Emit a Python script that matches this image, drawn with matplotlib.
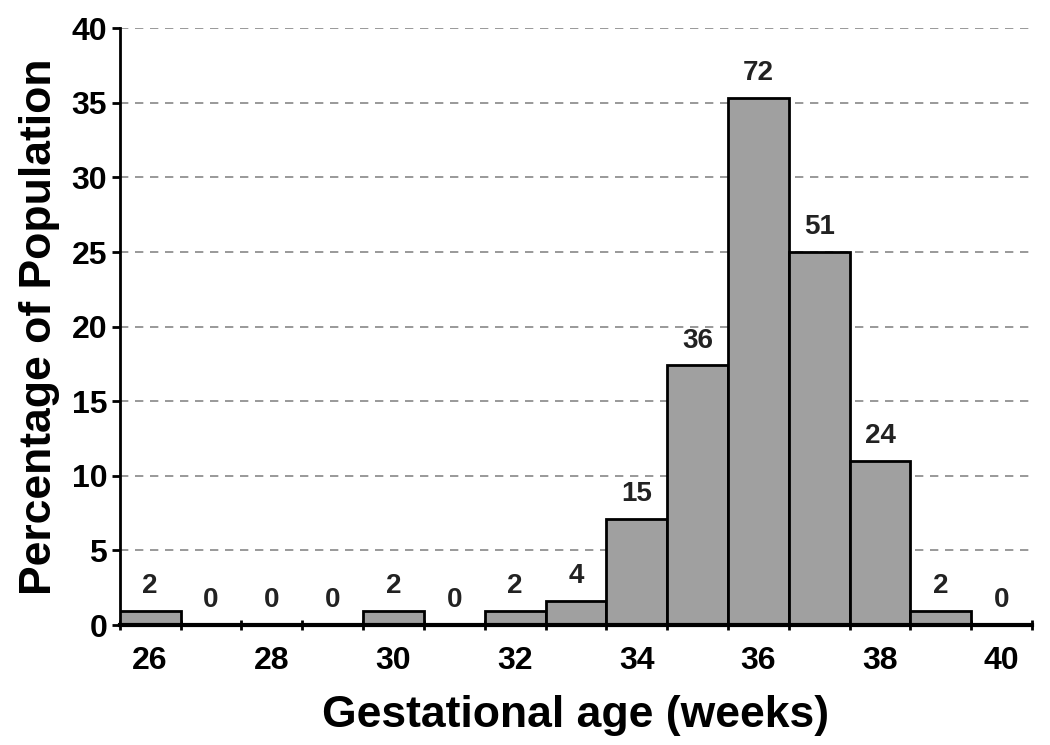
from matplotlib import pyplot as plt
import numpy as np

plt.rcParams['font.family'] = ['Liberation Sans', 'DejaVu Sans']
plt.rcParams['font.weight'] = 'bold'

weeks = list(range(26, 41))
counts = [2, 0, 0, 0, 2, 0, 2, 4, 15, 36, 72, 51, 24, 2, 0]
percent = [0.95, 0, 0, 0, 0.95, 0, 0.95, 1.6, 7.1, 17.4, 35.3, 25.0, 11.0, 0.95, 0]
xticks = [26, 28, 30, 32, 34, 36, 38, 40]

fig = plt.figure(figsize=(10.5, 7.45), dpi=100)
ax = fig.add_axes([0.114, 0.161, 0.869, 0.801])

ax.bar(weeks, percent, width=1.0, color='#a0a0a0', edgecolor='black',
       linewidth=2, zorder=3)
for w, p, c in zip(weeks, percent, counts):
    ax.text(w, p + 0.8, str(c), ha='center', va='bottom', fontsize=20,
            fontweight='bold', color='#222222', zorder=4)

ax.set_xlim(25.5, 40.5)
ax.set_ylim(0, 40)
ax.set_yticks(np.arange(0, 41, 5))
ax.set_xticks(xticks)
ax.set_xticks(np.arange(25.5, 40.6, 1), minor=True)
ax.tick_params(axis='x', which='major', length=0, pad=15, labelsize=23)
ax.tick_params(axis='x', which='minor', length=7, width=2, direction='inout')
ax.tick_params(axis='y', length=6, width=2, labelsize=23, pad=3)
for lab in ax.get_xticklabels() + ax.get_yticklabels():
    lab.set_fontweight('bold')

ax.yaxis.grid(True, linestyle=(0, (5, 4)), color='#888888', linewidth=1.2, zorder=0)
ax.set_axisbelow(True)
ax.spines['top'].set_visible(False)
ax.spines['right'].set_visible(False)
ax.spines['left'].set_linewidth(2)
ax.spines['bottom'].set_linewidth(3)
ax.spines['bottom'].set_zorder(5)

ax.set_xlabel('Gestational age (weeks)', fontsize=32, fontweight='bold', labelpad=14)
ax.set_ylabel('Percentage of Population', fontsize=32, fontweight='bold', labelpad=8)

plt.savefig('out.png', dpi=100)
